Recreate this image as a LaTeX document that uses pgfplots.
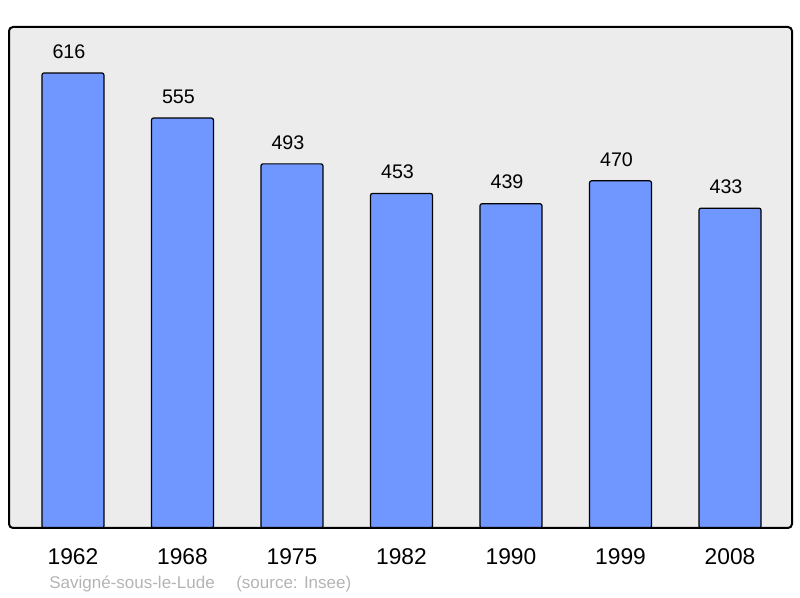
\documentclass[border=0pt]{standalone}
\usepackage{pgfplots}
\pgfplotsset{compat=1.18}
\usepackage{fontspec}
\setmainfont{Liberation Sans}
\definecolor{barblue}{RGB}{112,151,255}
\definecolor{panel}{RGB}{236,236,236}
\definecolor{footgray}{RGB}{180,180,180}

\begin{document}
\begin{tikzpicture}
\useasboundingbox (0,0) rectangle (200mm,149.5mm);
\begin{axis}[
    at={(2.25mm,17.5mm)}, anchor=south west,
    width=195.75mm, height=125.25mm, scale only axis,
    ybar, bar width=15.5mm,
    ymin=0, ymax=678.3,
    xmin=-0.584, xmax=6.566,
    xtick=data,
    xticklabels={1962,1968,1975,1982,1990,1999,2008},
    ytick=\empty,
    major tick length=0pt,
    axis line style={draw=none},
    /pgf/number format/assume math mode=true,
    axis background/.style={fill=panel},
    xticklabel style={font=\fontsize{16.2}{18}\selectfont, anchor=base, inner sep=0pt, yshift=-9.25mm},
    nodes near coords,
    every node near coord/.append style={font=\fontsize{14}{16}\selectfont, anchor=base, inner sep=0pt, yshift=3.7mm, xshift=-1mm, text=black},
    clip=false,
]
\addplot[fill=barblue, draw=black, line width=0.3mm, rounded corners=0.5mm] coordinates {
    (0,616) (1,555) (2,493) (3,453) (4,439) (5,470) (6,433)
};
\draw[line width=0.5mm, rounded corners=1mm] (rel axis cs:0,0) rectangle (rel axis cs:1,1);
\end{axis}
\node[anchor=base west, text=footgray, inner sep=0pt, font=\fontsize{12.1}{14}\selectfont] at (12.25mm,2.25mm) {Savigné-sous-le-Lude};
\node[anchor=base west, text=footgray, inner sep=0pt, font=\fontsize{12.1}{14}\selectfont] at (59mm,2.25mm) {(source: Insee)};
\end{tikzpicture}
\end{document}
